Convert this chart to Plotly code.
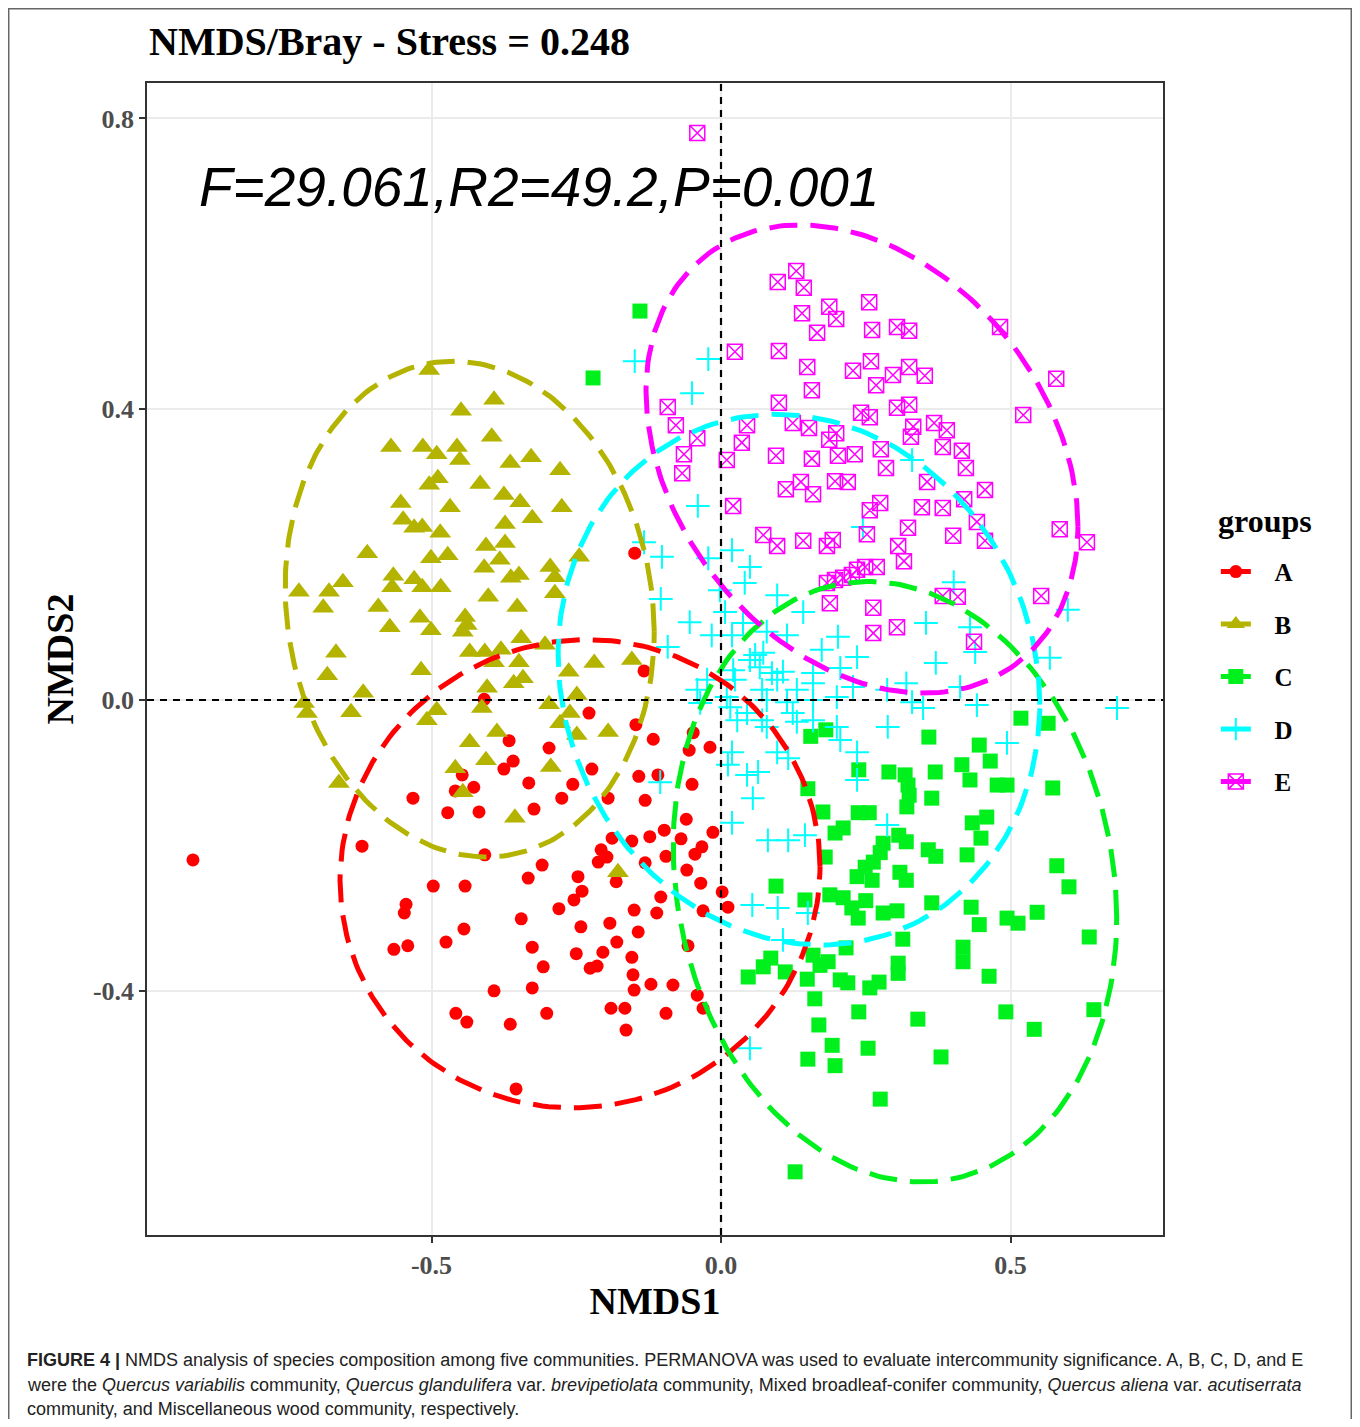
import numpy as np
import plotly.graph_objects as go

# ---------------- data (NMDS scores) ----------------
groups = ["A", "B", "C", "D", "E"]

A_x = [-0.912, -0.366, -0.297, -0.359, -0.375, -0.447, -0.427, -0.459, -0.332, -0.275, -0.532, -0.472, -0.418, -0.323, -0.620, -0.408, -0.309, -0.333, -0.497, -0.442, -0.544, -0.547, -0.280, -0.345, -0.444, -0.475, -0.565, -0.541, -0.326, -0.307, -0.392, -0.326, -0.301, -0.458, -0.439, -0.364, -0.354, -0.409, -0.149, -0.133, -0.228, -0.147, -0.117, -0.048, -0.055, -0.019, -0.223, -0.142, -0.109, -0.256, -0.050, -0.195, -0.131, -0.060, -0.098, -0.014, -0.188, -0.154, -0.123, -0.069, -0.033, -0.207, -0.197, -0.212, -0.095, -0.045, -0.131, -0.059, -0.247, -0.181, -0.035, -0.240, -0.254, -0.104, 0.002, 0.012, -0.150, -0.111, -0.031, -0.242, -0.192, -0.143, -0.180, -0.057, -0.250, -0.204, -0.154, -0.226, -0.214, -0.152, -0.121, -0.150, -0.083, -0.041, -0.190, -0.166, -0.095, -0.031, -0.164]
A_y = [-0.220, -0.056, -0.066, -0.084, -0.095, -0.103, -0.120, -0.125, -0.114, -0.135, -0.135, -0.155, -0.154, -0.150, -0.201, -0.213, -0.227, -0.245, -0.256, -0.256, -0.281, -0.293, -0.287, -0.301, -0.315, -0.333, -0.343, -0.338, -0.340, -0.367, -0.400, -0.396, -0.431, -0.431, -0.443, -0.446, -0.535, 0.001, 0.202, 0.040, -0.018, -0.034, -0.054, -0.045, -0.069, -0.065, -0.095, -0.105, -0.103, -0.116, -0.116, -0.135, -0.138, -0.164, -0.179, -0.182, -0.190, -0.194, -0.188, -0.191, -0.202, -0.206, -0.216, -0.223, -0.215, -0.212, -0.224, -0.234, -0.243, -0.250, -0.252, -0.263, -0.275, -0.271, -0.264, -0.285, -0.289, -0.293, -0.290, -0.312, -0.307, -0.319, -0.333, -0.338, -0.349, -0.347, -0.354, -0.369, -0.366, -0.378, -0.391, -0.399, -0.392, -0.406, -0.424, -0.424, -0.431, -0.424, -0.454]

B_x = [-0.504, -0.392, -0.449, -0.396, -0.570, -0.515, -0.491, -0.456, -0.451, -0.364, -0.328, -0.278, -0.489, -0.504, -0.416, -0.375, -0.347, -0.553, -0.468, -0.275, -0.326, -0.549, -0.373, -0.530, -0.516, -0.485, -0.406, -0.373, -0.611, -0.501, -0.472, -0.245, -0.409, -0.382, -0.295, -0.363, -0.349, -0.566, -0.530, -0.516, -0.484, -0.568, -0.287, -0.287, -0.729, -0.677, -0.653, -0.687, -0.592, -0.402, -0.352, -0.520, -0.572, -0.501, -0.442, -0.439, -0.446, -0.665, -0.434, -0.408, -0.380, -0.345, -0.304, -0.349, -0.392, -0.219, -0.154, -0.680, -0.518, -0.342, -0.358, -0.263, -0.404, -0.618, -0.249, -0.720, -0.639, -0.491, -0.413, -0.297, -0.261, -0.508, -0.278, -0.434, -0.387, -0.406, -0.459, -0.294, -0.660, -0.446, -0.356, -0.249, -0.195, -0.178, -0.715]
B_y = [0.454, 0.413, 0.398, 0.362, 0.348, 0.348, 0.338, 0.348, 0.330, 0.326, 0.334, 0.316, 0.305, 0.296, 0.297, 0.282, 0.272, 0.271, 0.265, 0.265, 0.250, 0.248, 0.242, 0.237, 0.238, 0.230, 0.212, 0.216, 0.202, 0.195, 0.199, 0.197, 0.182, 0.193, 0.183, 0.168, 0.172, 0.171, 0.166, 0.155, 0.155, 0.155, 0.169, 0.147, 0.149, 0.149, 0.162, 0.127, 0.128, 0.142, 0.128, 0.113, 0.100, 0.096, 0.114, 0.103, 0.094, 0.065, 0.066, 0.066, 0.069, 0.085, 0.076, 0.052, 0.052, 0.051, 0.055, 0.034, 0.041, 0.030, 0.023, 0.039, 0.017, 0.010, 0.007, -0.004, -0.017, -0.014, -0.011, -0.006, -0.018, -0.028, -0.032, -0.058, -0.044, -0.083, -0.094, -0.092, -0.114, -0.127, -0.162, -0.048, -0.044, -0.237, -0.018]

C_x = [0.518, 0.565, 0.181, 0.155, 0.359, 0.446, 0.465, 0.416, 0.238, 0.290, 0.318, 0.370, 0.430, 0.323, 0.477, 0.494, 0.573, 0.150, 0.325, 0.364, 0.321, 0.237, 0.256, 0.176, 0.459, 0.434, 0.211, 0.197, 0.307, 0.320, 0.449, 0.280, 0.358, 0.371, 0.425, 0.180, 0.275, 0.263, 0.249, 0.580, 0.309, 0.320, 0.235, 0.261, 0.095, 0.601, 0.188, 0.145, 0.211, 0.250, 0.226, 0.304, 0.280, 0.364, 0.432, 0.237, 0.446, 0.494, 0.513, 0.546, 0.314, 0.216, 0.418, 0.636, 0.086, 0.073, 0.047, 0.111, 0.159, 0.185, 0.171, 0.306, 0.306, 0.418, 0.149, 0.206, 0.219, 0.273, 0.257, 0.463, 0.162, 0.238, 0.340, 0.492, 0.541, 0.644, 0.169, 0.192, 0.254, 0.380, 0.150, 0.197, 0.275, 0.128, -0.140, -0.221]
C_y = [-0.025, -0.032, -0.041, -0.050, -0.051, -0.062, -0.084, -0.089, -0.096, -0.099, -0.103, -0.099, -0.110, -0.117, -0.117, -0.117, -0.121, -0.122, -0.131, -0.135, -0.147, -0.155, -0.155, -0.154, -0.161, -0.169, -0.176, -0.183, -0.186, -0.195, -0.190, -0.197, -0.206, -0.215, -0.213, -0.216, -0.210, -0.223, -0.230, -0.228, -0.237, -0.248, -0.243, -0.248, -0.256, -0.257, -0.268, -0.275, -0.272, -0.276, -0.286, -0.290, -0.293, -0.279, -0.285, -0.300, -0.309, -0.300, -0.307, -0.292, -0.329, -0.341, -0.340, -0.326, -0.355, -0.367, -0.381, -0.374, -0.351, -0.360, -0.365, -0.362, -0.376, -0.360, -0.384, -0.385, -0.389, -0.388, -0.396, -0.380, -0.411, -0.429, -0.439, -0.429, -0.453, -0.426, -0.447, -0.475, -0.479, -0.491, -0.494, -0.503, -0.549, -0.649, 0.535, 0.443]

D_x = [-0.133, -0.102, -0.022, 0.019, 0.050, 0.041, -0.002, 0.097, -0.104, 0.007, 0.142, -0.054, -0.016, 0.019, 0.038, 0.079, 0.114, 0.202, -0.092, 0.059, 0.073, 0.050, 0.174, 0.235, 0.067, 0.021, 0.088, 0.107, 0.159, 0.206, -0.024, 0.024, 0.097, -0.041, 0.071, 0.131, 0.159, 0.228, 0.010, 0.079, 0.114, 0.159, 0.200, 0.016, 0.045, 0.028, 0.071, 0.124, 0.159, 0.200, 0.206, 0.245, 0.402, 0.354, 0.430, 0.439, 0.371, 0.599, 0.568, 0.320, 0.287, 0.330, 0.349, 0.413, 0.442, 0.288, 0.494, 0.684, -0.149, -0.022, -0.050, -0.040, 0.330, -0.105, -0.036, 0.079, 0.131, 0.235, 0.019, 0.012, 0.045, 0.064, 0.097, 0.116, 0.055, 0.019, 0.081, 0.116, 0.145, 0.235, 0.287, 0.054, 0.098, 0.150, 0.107, 0.050]
D_y = [0.217, 0.197, 0.195, 0.206, 0.183, 0.161, 0.151, 0.144, 0.139, 0.121, 0.121, 0.107, 0.089, 0.089, 0.106, 0.094, 0.089, 0.087, 0.073, 0.062, 0.065, 0.055, 0.069, 0.059, 0.045, 0.041, 0.037, 0.039, 0.037, 0.044, 0.028, 0.028, 0.028, 0.014, 0.014, 0.014, 0.023, 0.018, 0.004, 0.000, -0.003, 0.000, 0.004, -0.010, -0.018, -0.028, -0.028, -0.018, -0.028, -0.037, -0.055, 0.238, 0.162, 0.106, 0.100, 0.066, 0.051, 0.124, 0.058, 0.023, 0.014, -0.003, -0.011, 0.018, -0.007, -0.037, -0.059, -0.011, 0.466, 0.469, 0.422, 0.267, 0.330, -0.113, -0.004, -0.037, -0.030, -0.072, -0.072, -0.089, -0.103, -0.099, -0.072, -0.080, -0.135, -0.169, -0.193, -0.193, -0.186, -0.110, -0.172, -0.282, -0.286, -0.293, -0.330, -0.479]

E_x = [-0.041, 0.130, 0.098, 0.143, 0.256, 0.140, 0.187, 0.199, 0.261, 0.304, 0.325, 0.166, 0.482, 0.024, 0.100, 0.149, 0.228, 0.259, 0.297, 0.325, 0.352, 0.268, 0.157, 0.579, -0.092, 0.100, 0.242, 0.257, 0.304, 0.325, 0.522, -0.078, -0.041, 0.045, 0.124, 0.152, 0.187, 0.199, 0.332, 0.368, 0.390, 0.328, -0.064, 0.036, 0.095, 0.157, 0.202, 0.231, 0.276, 0.383, 0.416, 0.010, -0.067, 0.285, 0.423, 0.112, 0.138, 0.159, 0.197, 0.219, 0.356, 0.456, 0.021, 0.257, 0.275, 0.347, 0.383, 0.420, 0.442, 0.073, 0.097, 0.142, 0.193, 0.183, 0.252, 0.323, 0.306, 0.401, 0.456, 0.585, 0.632, 0.183, 0.197, 0.211, 0.226, 0.235, 0.249, 0.269, 0.316, 0.188, 0.263, 0.263, 0.304, 0.383, 0.409, 0.553, 0.437]
E_y = [0.780, 0.590, 0.575, 0.567, 0.547, 0.532, 0.541, 0.524, 0.509, 0.513, 0.508, 0.505, 0.513, 0.479, 0.480, 0.458, 0.453, 0.466, 0.447, 0.458, 0.446, 0.433, 0.426, 0.442, 0.403, 0.409, 0.395, 0.389, 0.402, 0.406, 0.392, 0.378, 0.360, 0.378, 0.381, 0.374, 0.358, 0.367, 0.376, 0.381, 0.371, 0.362, 0.338, 0.354, 0.336, 0.332, 0.336, 0.338, 0.345, 0.348, 0.343, 0.330, 0.312, 0.319, 0.319, 0.290, 0.300, 0.283, 0.301, 0.300, 0.300, 0.289, 0.267, 0.261, 0.271, 0.265, 0.264, 0.276, 0.245, 0.227, 0.212, 0.219, 0.220, 0.212, 0.228, 0.237, 0.212, 0.226, 0.219, 0.235, 0.217, 0.161, 0.165, 0.168, 0.172, 0.179, 0.183, 0.183, 0.191, 0.133, 0.127, 0.092, 0.100, 0.143, 0.142, 0.143, 0.080]

# 95% confidence ellipses (centre, half-extent in x / y, correlation)
ell_cx = [-0.2435, -0.434, 0.3005, 0.1347, 0.2435]
ell_cy = [-0.239, 0.125, -0.250, 0.028, 0.3315]
ell_sx = [0.4145, 0.3187, 0.383, 0.416, 0.373]
ell_sy = [0.322, 0.341, 0.413, 0.365, 0.322]
ell_rho = [0.03, -0.09, -0.12, -0.094, -0.287]

x_ticks = [-0.5, 0.0, 0.5]
x_ticklabels = ["-0.5", "0.0", "0.5"]
y_ticks = [-0.4, 0.0, 0.4, 0.8]
y_ticklabels = ["-0.4", "0.0", "0.4", "0.8"]
x_range = [-0.9914, 0.7634]
y_range = [-0.7359, 0.8487]

title_text = "NMDS/Bray - Stress = 0.248"
stat_text = "F=29.061,R2=49.2,P=0.001"
stat_pos = (-0.314, 0.705)
legend_title = "groups"

# ---------------- styling ----------------
colors = ["#FF0000", "#B3B300", "#00F01E", "#00FFFF", "#FF00FF"]
symbols = ["circle", "triangle-up", "square", "cross-thin", "square-x-open"]
msizes = [13, 19, 15, 17, 15]
mlw = [0, 0, 0, 2, 1.5]
SERIF = "Liberation Serif, Times New Roman, serif"
SANS = "Liberation Sans, Arial, sans-serif"

xs = [A_x, B_x, C_x, D_x, E_x]
ys = [A_y, B_y, C_y, D_y, E_y]

fig = go.Figure()

# points
for g, x, y, c, s, ms, lw in zip(groups, xs, ys, colors, symbols, msizes, mlw):
    fig.add_trace(go.Scatter(
        x=x, y=y, mode="markers", name=g, showlegend=False,
        marker=dict(symbol=s, size=ms, color=c,
                    line=dict(width=lw, color=c)),
    ))

# ellipses
t = np.linspace(0, 2 * np.pi, 241)
for g, cx, cy, sx, sy, r, c in zip(groups, ell_cx, ell_cy, ell_sx, ell_sy, ell_rho, colors):
    ex = cx + sx * np.cos(t)
    ey = cy + sy * (r * np.cos(t) + np.sqrt(1 - r * r) * np.sin(t))
    fig.add_trace(go.Scatter(
        x=ex, y=ey, mode="lines", showlegend=False, hoverinfo="skip",
        line=dict(color=c, width=5, dash="28px,13px"),
    ))

# legend entries (line + marker key)
for g, c, s, ms, lw in zip(groups, colors, symbols, msizes, mlw):
    fig.add_trace(go.Scatter(
        x=[None], y=[None], mode="lines+markers",
        name="&nbsp;&nbsp;&nbsp;<b>" + g + "</b>",
        legendgroup=g, showlegend=True,
        line=dict(color=c, width=5),
        marker=dict(symbol=s, size=ms, color=c, line=dict(width=lw, color=c)),
    ))

# reference dashed lines at 0
fig.add_shape(type="line", xref="x", yref="paper", x0=0, x1=0, y0=0, y1=1,
              line=dict(color="black", width=2.2, dash="7px,6px"), layer="above")
fig.add_shape(type="line", xref="paper", yref="y", x0=0, x1=1, y0=0, y1=0,
              line=dict(color="black", width=2.2, dash="7px,6px"), layer="above")

# outer figure frame
fig.add_shape(type="rect", xref="paper", yref="paper",
              x0=-0.1361, x1=1.1853, y0=-0.172, y1=1.0645,
              line=dict(color="#666666", width=1.5), fillcolor="rgba(0,0,0,0)")

# title
fig.add_annotation(xref="paper", yref="paper", x=0.0, y=1.0356,
                   xanchor="left", yanchor="middle", showarrow=False,
                   text="<b>" + title_text + "</b>",
                   font=dict(family=SERIF, size=40, color="black"))

# PERMANOVA annotation
fig.add_annotation(xref="x", yref="y", x=stat_pos[0], y=stat_pos[1],
                   xanchor="center", yanchor="middle", showarrow=False,
                   text="<i>" + stat_text + "</i>",
                   font=dict(family=SANS, size=55, color="black"))

# legend title
fig.add_annotation(xref="paper", yref="paper", x=1.0522, y=0.620,
                   xanchor="left", yanchor="middle", showarrow=False,
                   text="<b>" + legend_title + "</b>",
                   font=dict(family=SERIF, size=32, color="black"))

# caption
cap_lines = [
    "<b>FIGURE 4 |</b> NMDS analysis of species composition among five communities. PERMANOVA was used to evaluate intercommunity significance. A, B, C, D, and E",
    "were the <i>Quercus variabilis</i> community, <i>Quercus glandulifera</i> var. <i>brevipetiolata</i> community, Mixed broadleaf-conifer community, <i>Quercus aliena</i> var. <i>acutiserrata</i>",
    "community, and Miscellaneous wood community, respectively.",
]
cap_y = [-0.1085, -0.1302, -0.1510]
for txt, yy in zip(cap_lines, cap_y):
    fig.add_annotation(xref="paper", yref="paper", x=-0.1201, y=yy,
                       xanchor="left", yanchor="middle", showarrow=False,
                       text=txt, align="left",
                       font=dict(family=SANS, size=18, color="#222222"))

axis_common = dict(
    showgrid=True, gridcolor="#EBEBEB", gridwidth=1.5,
    zeroline=False, showline=True, mirror=True, linecolor="#333333", linewidth=1.5,
    ticks="outside", ticklen=6, tickwidth=1.5, tickcolor="#333333",
    tickfont=dict(family=SERIF, size=26, color="#4D4D4D", weight="bold"),
)

fig.update_layout(
    width=1344, height=1411,
    margin=dict(l=139, r=189, t=75, b=184),
    paper_bgcolor="white", plot_bgcolor="white",
    xaxis=dict(range=x_range, tickvals=x_ticks, ticktext=x_ticklabels,
               title=dict(text="<b>NMDS1</b>", font=dict(family=SERIF, size=38, color="black"), standoff=8),
               **axis_common),
    yaxis=dict(range=y_range, tickvals=y_ticks, ticktext=y_ticklabels,
               title=dict(text="<b>NMDS2</b>", font=dict(family=SERIF, size=38, color="black"), standoff=8),
               **axis_common),
    legend=dict(
        font=dict(family=SERIF, size=25, color="black"),
        x=1.052, y=0.5956, xanchor="left", yanchor="top",
        tracegroupgap=17, bgcolor="rgba(0,0,0,0)",
    ),
    showlegend=True,
)

fig.write_html("out.html")
